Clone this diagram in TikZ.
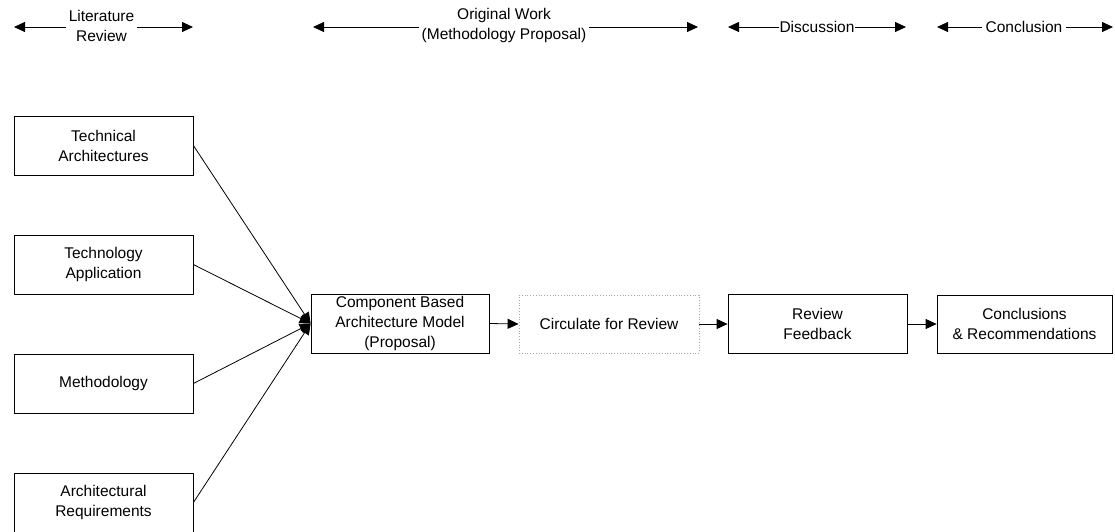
\documentclass[tikz,border=0pt]{standalone}
\usepackage{fontspec}
\setmainfont{Liberation Sans}
\usetikzlibrary{arrows.meta}
\begin{document}
\begin{tikzpicture}[x=1pt,y=-1pt,
  every node/.style={font=\fontsize{15.5}{20}\selectfont, align=center},
  box/.style={draw, line width=0.8pt, minimum width=179pt, minimum height=59pt, inner sep=0pt},
  pending/.style={box, draw=gray!70, dotted},
  flow/.style={line width=0.8pt, -{Triangle[length=11pt,width=10pt]}},
  phase/.style={inner xsep=3pt, inner ysep=0pt}
]
\useasboundingbox (0,0) rectangle (1115,531);

% phase headers
\node[phase] (lit) at (101.5,25.5) {Literature\\Review};
\coordinate (litL) at (14,27);
\coordinate (litR) at (193,27);
\draw[flow] (lit.west |- litL) -- (litL);
\draw[flow] (lit.east |- litR) -- (litR);

\node[phase] (orig) at (504,25.5) {Original Work\\(Methodology Proposal)};
\coordinate (origL) at (313,27);
\coordinate (origR) at (698,27);
\draw[flow] (orig.west |- origL) -- (origL);
\draw[flow] (orig.east |- origR) -- (origR);

\node[phase, inner xsep=0pt] (disc) at (817,27) {Discussion};
\coordinate (discL) at (728,27);
\coordinate (discR) at (906,27);
\draw[flow] (disc.west |- discL) -- (discL);
\draw[flow] (disc.east |- discR) -- (discR);

\node[phase] (concl) at (1024,27) {Conclusion};
\coordinate (conclL) at (937,27);
\coordinate (conclR) at (1113,27);
\draw[flow] (concl.west |- conclL) -- (conclL);
\draw[flow] (concl.east |- conclR) -- (conclR);

% literature inputs
\node[box] (ta)   at (103.5,145.5) {Technical\\Architectures};
\node[box] (tapp) at (103.5,264.5) {Technology\\Application};
\node[box] (meth) at (103.5,383.5) {Methodology};
\node[box] (areq) at (103.5,502.5) {Architectural\\Requirements};

% main process chain
\node[box, minimum width=178pt] (comp) at (400,323.5) {Component Based\\Architecture Model\\(Proposal)};
\node[pending, minimum width=180pt, minimum height=58pt] (circ) at (609,324) {Circulate for Review};
\node[box] (rf) at (817.5,324) {Review\\Feedback};
\node[box, minimum width=175pt, minimum height=58pt] (conc) at (1024.5,324) {Conclusions\\\& Recommendations};

\foreach \src in {ta,tapp,meth,areq}
  \draw[flow] (\src.east) -- (comp.west);

\draw[flow] (comp.east) -- (circ.west);
\draw[flow] (circ.east) -- (rf.west);
\draw[flow] (rf.east) -- (conc.west);
\end{tikzpicture}
\end{document}
